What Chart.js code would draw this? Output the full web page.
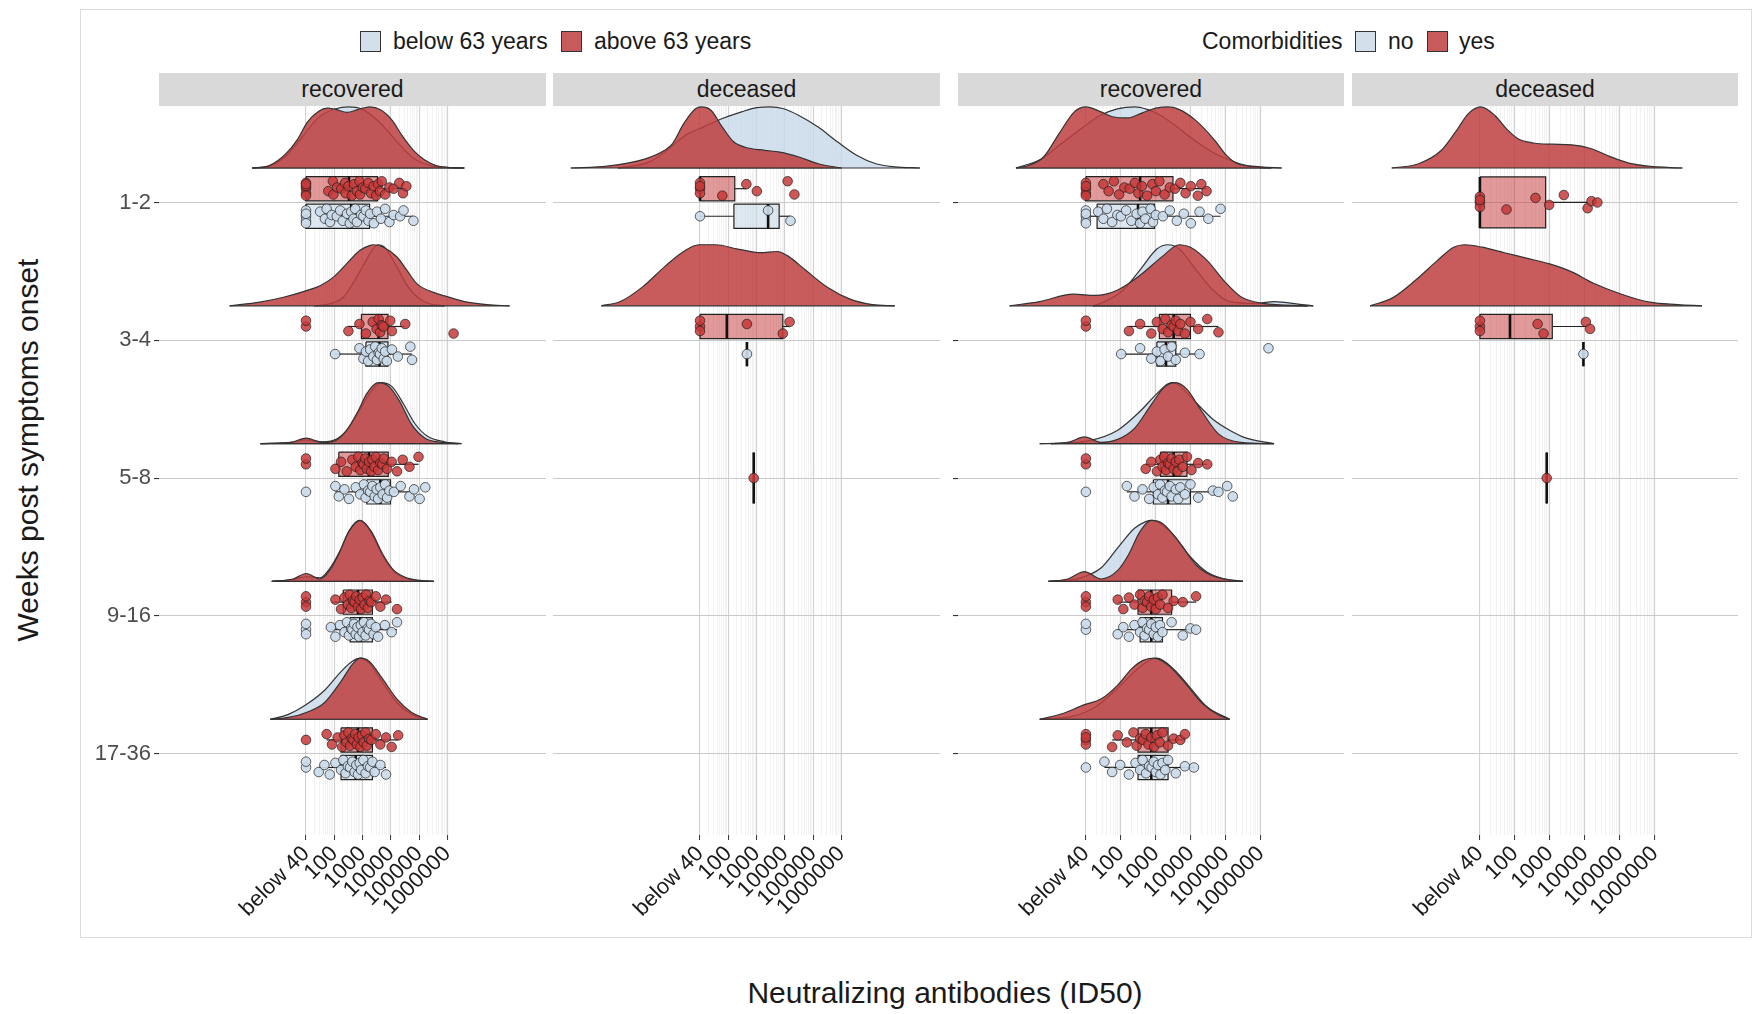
<!DOCTYPE html>
<html>
<head>
<meta charset="utf-8">
<script src="https://cdn.jsdelivr.net/npm/chart.js@4.4.1/dist/chart.umd.min.js"></script>
<style>
  body { margin: 0; background: #fff; width: 1753px; height: 1014px; position: relative; overflow: hidden;
         font-family: "Liberation Sans", Arial, sans-serif; color: #1a1a1a; }
  .abs { position: absolute; }
  .frame { left: 80px; top: 9px; width: 1670px; height: 927px; border: 1px solid #dcdcdc; }
  .strip { top: 73px; height: 33px; background: #d9d9d9; font-size: 23px; line-height: 33px; text-align: center; }
  .sq { top: 31px; width: 19px; height: 19px; border: 1px solid #333; }
  .lt { top: 26px; font-size: 23px; line-height: 30px; white-space: nowrap; }
  canvas { position: absolute; }
</style>
</head>
<body>
<div class="abs frame"></div>

<!-- legends -->
<div class="abs sq" style="left:360px;background:#d3dfeb"></div>
<div class="abs lt" id="lg1" style="left:393px"></div>
<div class="abs sq" style="left:561px;background:#c75b5b"></div>
<div class="abs lt" id="lg2" style="left:594px"></div>
<div class="abs lt" style="left:1202px">Comorbidities</div>
<div class="abs sq" style="left:1355px;background:#d3dfeb"></div>
<div class="abs lt" id="lg3" style="left:1388px"></div>
<div class="abs sq" style="left:1427px;background:#c75b5b"></div>
<div class="abs lt" id="lg4" style="left:1459px"></div>

<!-- facet strips -->
<div class="abs strip" id="st0" style="left:159px;width:387px"></div>
<div class="abs strip" id="st1" style="left:553px;width:387px"></div>
<div class="abs strip" id="st2" style="left:958px;width:386px"></div>
<div class="abs strip" id="st3" style="left:1352px;width:386px"></div>

<canvas id="p1" width="466" height="830" style="left:80px;top:106px"></canvas>
<canvas id="p2" width="387" height="830" style="left:553px;top:106px"></canvas>
<canvas id="p3" width="394" height="830" style="left:950px;top:106px"></canvas>
<canvas id="p4" width="386" height="830" style="left:1352px;top:106px"></canvas>

<div class="abs" style="left:-222px;top:432px;width:500px;height:36px;line-height:36px;font-size:30px;text-align:center;transform:rotate(-90deg)">Weeks post symptoms onset</div>
<div class="abs" style="left:0;top:975px;width:1890px;height:36px;line-height:36px;font-size:30px;text-align:center">Neutralizing antibodies (ID50)</div>

<script>
// --- categorias e eixos ---
const rows = ['1-2', '3-4', '5-8', '9-16', '17-36'];
const xTickLabels = ['below 40', '100', '1000', '10000', '100000', '1000000'];
const xTickPos = [1, 2, 3, 4, 5, 6];   // posição em décadas (below 40 = 1)
const facetLabels = ['recovered', 'deceased', 'recovered', 'deceased'];
const ageLegend = ['below 63 years', 'above 63 years'];
const comorbLegend = ['no', 'yes'];

// --- densidades: por linha, pares [x, altura relativa] ---
// p1 = idade / recovered, p2 = idade / deceased, p3 = comorb. / recovered, p4 = comorb. / deceased
// a = azul (below 63 / no), b = vermelho (above 63 / yes)
const p1aDens = [
  [[-0.9,0],[-0.3,0.03],[0.3,0.2],[0.85,0.5],[1.45,0.83],[2.05,0.97],[2.5,1],[3.0,0.96],[3.6,0.75],[4.2,0.44],[4.8,0.16],[5.4,0.04],[6.0,0.01],[6.6,0]],
  [[1.3,0],[1.9,0.04],[2.32,0.14],[2.7,0.4],[3.05,0.68],[3.35,0.92],[3.55,1],[3.8,0.95],[4.2,0.65],[4.6,0.32],[5.0,0.12],[5.4,0.03],[5.9,0]],
  [[-0.61,0],[0.5,0.02],[1.01,0.06],[1.6,0.03],[2.1,0.08],[2.5,0.25],[2.9,0.55],[3.3,0.85],[3.65,1],[4.05,0.93],[4.45,0.65],[4.85,0.33],[5.3,0.12],[5.9,0.03],[6.5,0]],
  [[-0.21,0],[0.54,0.03],[1.01,0.08],[1.5,0.06],[1.85,0.22],[2.2,0.5],[2.55,0.85],[2.9,1],[3.3,0.8],[3.7,0.43],[4.1,0.17],[4.6,0.04],[5.5,0]],
  [[-0.26,0],[0.38,0.08],[1.01,0.24],[1.65,0.47],[2.24,0.78],[2.64,0.95],[2.92,1],[3.23,0.92],[3.71,0.6],[4.22,0.27],[4.74,0.08],[5.3,0]]
];
const p1bDens = [
  [[-0.9,0],[-0.3,0.04],[0.3,0.24],[0.7,0.47],[1.05,0.75],[1.45,0.93],[1.75,0.98],[2.05,0.96],[2.45,0.91],[2.85,0.96],[3.25,1],[3.65,0.95],[4.05,0.78],[4.4,0.53],[4.8,0.29],[5.2,0.13],[5.6,0.04],[6.0,0.01],[6.6,0]],
  [[-1.7,0],[-0.63,0.06],[0.2,0.14],[1.02,0.25],[1.5,0.33],[1.97,0.47],[2.44,0.69],[2.91,0.91],[3.27,0.99],[3.39,1],[3.74,0.96],[4.22,0.8],[4.57,0.58],[4.93,0.36],[5.51,0.22],[5.99,0.15],[6.6,0.07],[7.4,0.02],[8.2,0]],
  [[-0.61,0],[0.46,0.02],[1.01,0.09],[1.57,0.02],[2.04,0.05],[2.44,0.22],[2.84,0.53],[3.15,0.82],[3.55,1],[3.95,0.93],[4.34,0.67],[4.74,0.31],[5.21,0.09],[5.81,0.02],[6.4,0]],
  [[-0.21,0],[0.54,0.04],[1.01,0.13],[1.49,0.04],[1.84,0.18],[2.16,0.45],[2.52,0.82],[2.92,1],[3.31,0.82],[3.71,0.45],[4.11,0.18],[4.62,0.05],[5.53,0]],
  [[-0.26,0],[0.38,0.03],[1.01,0.11],[1.65,0.27],[2.24,0.62],[2.64,0.9],[2.92,1],[3.23,0.95],[3.71,0.66],[4.22,0.33],[4.74,0.11],[5.3,0]]
];
const p2aDens = [
  [[-1.9,0],[-1.4,0.03],[-0.79,0.1],[-0.25,0.26],[0.03,0.37],[0.57,0.56],[1.11,0.67],[1.79,0.81],[2.47,0.92],[3.01,0.99],[3.48,1],[3.96,0.97],[4.5,0.86],[5.18,0.67],[5.86,0.43],[6.54,0.21],[7.22,0.07],[7.89,0.02],[8.78,0]],
  null, null, null, null
];
const p2bDens = [
  [[-3.57,0],[-2.28,0.03],[-0.93,0.15],[-0.25,0.29],[0.03,0.4],[0.43,0.73],[0.84,0.97],[1.04,1],[1.38,0.95],[1.79,0.67],[2.19,0.43],[2.6,0.34],[3.28,0.29],[3.82,0.26],[4.5,0.18],[5.18,0.07],[6.0,0]],
  [[-2.49,0],[-1.82,0.07],[-1.03,0.31],[-0.23,0.65],[0.36,0.87],[0.96,1],[1.55,1],[2.34,0.93],[3.14,0.87],[3.73,0.89],[4.13,0.81],[4.72,0.59],[5.52,0.3],[6.31,0.11],[7.1,0.02],[7.89,0]],
  null, null, null
];
const p3aDens = [
  [[-1.0,0],[-0.3,0.14],[0.3,0.4],[0.9,0.66],[1.4,0.86],[1.9,0.97],[2.4,1],[2.75,0.96],[3.05,0.89],[3.5,0.72],[4.0,0.5],[4.5,0.3],[4.9,0.18],[5.4,0.07],[5.9,0.01],[6.3,0]],
  [[1.2,0],[1.43,0.04],[2.07,0.26],[2.55,0.59],[3.03,0.93],[3.35,1],[3.67,0.93],[4.15,0.59],[4.63,0.26],[5.11,0.07],[5.9,0.04],[6.38,0.07],[7.18,0.02],[7.5,0]],
  [[0.0,0],[1.11,0.05],[1.91,0.22],[2.55,0.53],[3.03,0.82],[3.35,0.98],[3.5,1],[3.67,0.95],[4.15,0.67],[4.63,0.4],[5.11,0.22],[5.59,0.09],[6.38,0]],
  [[-0.07,0],[0.8,0.05],[1.43,0.22],[1.91,0.55],[2.39,0.87],[2.71,0.98],[2.87,1],[3.03,0.98],[3.51,0.76],[3.99,0.4],[4.47,0.15],[5.11,0.02],[5.49,0]],
  [[-0.32,0],[0.64,0.05],[1.27,0.2],[1.91,0.51],[2.39,0.78],[2.71,0.93],[3.03,1],[3.51,0.82],[3.99,0.51],[4.47,0.2],[5.11,0]]
];
const p3bDens = [
  [[-1.0,0],[-0.6,0.05],[-0.21,0.18],[0.23,0.56],[0.67,0.92],[1.0,1],[1.43,0.92],[1.76,0.84],[2.2,0.82],[2.6,0.9],[3.0,0.98],[3.35,1],[3.66,0.96],[4.14,0.78],[4.69,0.45],[5.0,0.22],[5.34,0.07],[6.0,0.02],[6.6,0]],
  [[-1.18,0],[-0.32,0.07],[0.64,0.19],[1.27,0.17],[1.91,0.26],[2.55,0.5],[3.19,0.81],[3.67,1],[3.99,0.96],[4.47,0.74],[4.95,0.41],[5.43,0.15],[6.07,0.04],[7.34,0]],
  [[-0.32,0],[0.48,0.02],[0.96,0.11],[1.43,0.02],[1.91,0.07],[2.39,0.25],[2.87,0.64],[3.25,0.93],[3.57,1],[3.89,0.89],[4.31,0.53],[4.79,0.16],[5.43,0.02],[6.38,0]],
  [[-0.07,0],[0.48,0.04],[0.96,0.16],[1.43,0.04],[1.91,0.18],[2.23,0.45],[2.55,0.82],[2.87,1],[3.19,0.95],[3.67,0.64],[4.15,0.27],[4.63,0.09],[5.49,0]],
  [[-0.32,0],[0.32,0.09],[0.96,0.24],[1.43,0.33],[1.91,0.56],[2.3,0.82],[2.62,0.96],[2.94,1],[3.35,0.89],[3.83,0.6],[4.31,0.27],[4.79,0.07],[5.11,0]]
];
const p4aDens = [null, null, null, null, null];
const p4bDens = [
  [[-1.52,0],[-0.75,0.07],[-0.1,0.29],[0.34,0.62],[0.67,0.89],[1.02,1],[1.43,0.86],[1.76,0.64],[2.09,0.48],[2.53,0.41],[3.07,0.39],[3.62,0.38],[4.17,0.32],[4.71,0.19],[5.26,0.08],[5.81,0.03],[6.79,0]],
  [[-2.14,0],[-1.5,0.13],[-0.86,0.41],[-0.22,0.74],[0.25,0.96],[0.57,1],[1.06,0.96],[1.7,0.87],[2.33,0.78],[2.97,0.69],[3.61,0.56],[4.25,0.37],[5.05,0.19],[5.85,0.06],[6.65,0.02],[7.35,0]],
  null, null, null
];

// --- boxplots: [min, q1, mediana, q3, max] por linha ---
const p1aBox = [[1.0,1.0,2.6,3.25,4.8],[2.03,3.12,3.6,3.9,4.75],[2.04,3.15,3.63,3.99,4.82],[1.88,2.56,2.92,3.35,4.22],[1.45,2.24,2.76,3.35,3.83]];
const p1bBox = [[1.0,1.0,2.52,3.53,4.55],[2.5,2.96,3.57,3.9,4.51],[2.04,2.16,3.23,3.91,4.98],[1.92,2.32,2.84,3.35,4.03],[1.73,2.24,2.84,3.35,4.26]];
const p2aBox = [[1.0,2.2,3.41,3.8,4.2],[2.66,2.66,2.66,2.66,2.66],null,null,null];
const p2bBox = [[1.0,1.0,1.0,2.23,2.64],[1.0,1.0,1.95,3.93,4.17],[2.9,2.9,2.9,2.9,2.9],null,null];
const p3aBox = [[1.0,1.32,2.49,2.96,4.85],[2.01,3.03,3.29,3.57,4.25],[2.17,2.93,3.35,3.99,4.63],[1.91,2.55,2.87,3.19,3.99],[1.53,2.49,2.87,3.35,4.09]];
const p3bBox = [[1.0,1.0,2.55,3.49,4.45],[2.23,3.1,3.51,3.99,4.79],[2.71,3.13,3.51,3.89,4.47],[1.91,2.49,2.87,3.45,4.15],[1.75,2.49,2.87,3.35,3.83]];
const p4aBox = [null,[3.96,3.96,3.96,3.96,3.96],null,null,null];
const p4bBox = [[1.0,1.0,1.0,2.88,4.08],[1.0,1.0,1.86,3.07,4.03],[2.91,2.91,2.91,2.91,2.91],null,null];

// --- pontos individuais (décadas) por linha ---
const p1aPts = [
  [1,1,1,1,1,1.5,1.67,1.73,1.85,1.91,2.09,2.21,2.3,2.45,2.55,2.6,2.68,2.74,2.8,2.95,3.03,3.12,3.21,3.27,3.4,3.51,3.65,3.8,3.95,4.1,4.33,4.45,4.8],
  [2.03,2.89,3.03,3.12,3.2,3.27,3.38,3.45,3.51,3.57,3.62,3.68,3.75,3.8,3.86,4.04,4.25,4.69,4.75],
  [1.0,2.04,2.16,2.36,2.52,2.76,2.92,3.05,3.11,3.2,3.27,3.35,3.43,3.5,3.55,3.63,3.71,3.8,3.87,3.95,4.11,4.35,4.66,4.82,5.02,5.22],
  [1,1,1,1.88,2.04,2.2,2.36,2.45,2.52,2.6,2.64,2.7,2.76,2.82,2.88,2.94,3.0,3.05,3.11,3.18,3.23,3.3,3.39,3.47,3.55,3.79,4.03,4.22],
  [1,1,1.45,1.65,1.84,2.04,2.24,2.32,2.4,2.48,2.56,2.64,2.72,2.78,2.84,2.9,2.95,3.03,3.11,3.19,3.27,3.35,3.43,3.63,3.83]
];
const p1bPts = [
  [1,1,1,1,1,1,1.79,1.95,1.97,2.1,2.25,2.38,2.4,2.5,2.62,2.7,2.8,2.89,2.91,3.01,3.1,3.2,3.3,3.39,3.48,3.55,3.62,3.68,3.8,3.95,4.1,4.3,4.43,4.55],
  [1,1,2.5,2.89,3.12,3.36,3.5,3.57,3.62,3.68,3.74,3.98,4.04,4.51,6.22],
  [1,1,2.04,2.24,2.44,2.64,2.76,2.85,2.92,3.0,3.04,3.1,3.15,3.23,3.3,3.35,3.42,3.47,3.55,3.63,3.7,3.75,3.87,4.03,4.22,4.42,4.66,4.98],
  [1,1,1,2.04,2.24,2.36,2.48,2.55,2.6,2.66,2.72,2.78,2.84,2.9,2.95,3.01,3.07,3.13,3.19,3.25,3.31,3.47,3.63,3.83,4.22],
  [1,1.73,1.92,2.12,2.28,2.36,2.44,2.5,2.56,2.62,2.68,2.74,2.8,2.86,2.92,2.98,3.04,3.1,3.15,3.23,3.31,3.47,3.63,3.83,4.03,4.26]
];
const p2aPts = [[1.0,3.41,4.2],[2.66],[],[],[]];
const p2bPts = [[1,1,1,1,1.79,2.64,3.01,4.1,4.34],[1,1,1,2.66,3.93,4.17],[2.9],[],[]];
const p3aPts = [
  [1,1,1,1,1,1.35,1.5,1.6,1.75,1.9,2.0,2.15,2.3,2.45,2.55,2.62,2.7,2.85,2.92,3.0,3.2,3.4,3.6,3.8,4.0,4.25,4.5,4.85],
  [2.01,2.55,2.87,3.03,3.13,3.25,3.35,3.45,3.57,3.83,4.25,6.22],
  [1.0,2.17,2.39,2.62,2.81,2.94,3.06,3.12,3.19,3.26,3.32,3.4,3.45,3.57,3.64,3.7,3.83,3.99,4.21,4.63,4.79,5.04,5.2],
  [1,1,1.91,2.07,2.23,2.39,2.55,2.62,2.68,2.75,2.81,2.87,2.94,3.0,3.06,3.12,3.19,3.45,3.77,3.99,4.15],
  [1,1.53,1.75,1.98,2.23,2.42,2.55,2.62,2.72,2.81,2.88,2.94,3.0,3.06,3.13,3.19,3.27,3.35,3.57,3.83,4.09]
];
const p3bPts = [
  [1,1,1,1,1,1.5,1.65,1.8,1.95,2.1,2.25,2.4,2.5,2.6,2.75,2.9,3.0,3.1,3.25,3.4,3.55,3.7,3.85,4.0,4.2,4.3,4.45],
  [1,1,2.23,2.55,2.87,3.03,3.19,3.27,3.35,3.45,3.51,3.57,3.64,3.7,3.83,3.99,4.21,4.47,4.79],
  [1,1,2.71,2.87,3.03,3.13,3.19,3.24,3.29,3.35,3.4,3.45,3.51,3.57,3.62,3.67,3.77,3.89,4.02,4.21,4.47],
  [1,1,1,1.91,2.07,2.23,2.39,2.55,2.62,2.68,2.75,2.81,2.87,2.94,3.0,3.06,3.12,3.19,3.35,3.51,3.77,4.15],
  [1,1,1,1,1.75,1.91,2.17,2.36,2.45,2.55,2.63,2.71,2.79,2.87,2.95,3.03,3.11,3.19,3.35,3.51,3.7,3.83]
];
const p4aPts = [[],[3.96],[],[],[]];
const p4bPts = [[1,1,1,1,1.76,2.59,2.98,3.4,4.08,4.19,4.36],[1,1,1,2.65,2.82,4.03,4.15],[2.91],[],[]];

// --- estilo ---
const BLUE = { dens: 'rgba(200,216,232,0.8)', box: 'rgba(200,216,232,0.6)', pt: 'rgba(203,219,234,0.92)' };
const RED  = { dens: 'rgba(190,62,62,0.85)', box: 'rgba(200,60,60,0.52)', pt: 'rgba(200,58,58,0.85)' };
const OUTLINE = '#333333';
const DENS_BASE = 0.25, DENS_H = 0.443;
const DODGE = 0.1, HALF_DODGE = 0.088, HALF_FULL = 0.185;
const JIT = [0, -0.7, 0.55, -0.3, 0.85, -0.55, 0.3, -0.9, 0.7, -0.15];
const JIT_AMP = 0.06;
const Y_MIN = 0.3, Y_MAX = 5.59, X_AXIS_H = 101;

Chart.defaults.font.family = "'Liberation Sans', Arial, sans-serif";
Chart.defaults.animation = false;
Chart.defaults.events = [];

// linhas verticais: décadas maiores + subdivisões log (2..9)
const xGridTicks = [];
for (let d = 1; d <= 6; d++) {
    xGridTicks.push({ value: d, minor: false });
    if (d < 6) for (let m = 2; m <= 9; m++) xGridTicks.push({ value: d + Math.log10(m), minor: true });
}

function groupSets(dens, pts, box, r, center, half, col, ord) {
    const sets = [];
    const base = r + 1 - DENS_BASE;
    const curve = dens[r];
    if (curve) {
        sets.push({
            data: curve.map(([u, h]) => ({ x: u, y: base - DENS_H * h })),
            fill: { value: base }, backgroundColor: col.dens, borderColor: OUTLINE, borderWidth: 1.2,
            pointRadius: 0, cubicInterpolationMode: 'monotone', order: ord
        });
        sets.push({
            data: [{ x: curve[0][0], y: base }, { x: curve[curve.length - 1][0], y: base }],
            borderColor: OUTLINE, borderWidth: 1.2, pointRadius: 0, fill: false, order: ord - 1
        });
    }
    const b = box[r];
    if (b) {
        const [lo, q1, med, q3, hi] = b;
        const top = center - half, bot = center + half;
        sets.push({
            data: [{ x: q1, y: top }, { x: q3, y: top }, { x: q3, y: bot }, { x: q1, y: bot }, { x: q1, y: top }],
            fill: 'shape', backgroundColor: col.box, borderColor: '#222', borderWidth: 1.2, pointRadius: 0, order: 20
        });
        sets.push({ data: [{ x: lo, y: center }, { x: q1, y: center }], borderColor: '#222', borderWidth: 1.2, pointRadius: 0, order: 19 });
        sets.push({ data: [{ x: q3, y: center }, { x: hi, y: center }], borderColor: '#222', borderWidth: 1.2, pointRadius: 0, order: 19 });
        sets.push({ data: [{ x: med, y: top }, { x: med, y: bot }], borderColor: '#111', borderWidth: 2.6, pointRadius: 0, order: 18 });
    }
    if (pts[r] && pts[r].length) {
        sets.push({
            data: pts[r].map((u, i) => ({ x: u, y: center + JIT[i % JIT.length] * JIT_AMP })),
            showLine: false, pointRadius: 4.8, pointBackgroundColor: col.pt,
            pointBorderColor: 'rgba(25,25,25,0.85)', pointBorderWidth: 0.8, order: ord === 40 ? 6 : 5
        });
    }
    return sets;
}

function xScale(min, max) {
    return {
        type: 'linear', min, max,
        afterBuildTicks: s => { s.ticks = xGridTicks.map(t => ({ value: t.value, minor: t.minor })); },
        // área do gráfico fixa: sem folga extra dos rótulos
        afterFit: s => { s.height = X_AXIS_H; s.paddingLeft = 0; s.paddingRight = 0; },
        border: { display: false },
        grid: {
            color: c => (c.tick && c.tick.minor) ? '#efefef' : '#d2d2d2',
            lineWidth: c => (c.tick && c.tick.minor) ? 0.8 : 1.1,
            tickLength: 5,
            tickColor: c => (c.tick && c.tick.minor) ? 'rgba(0,0,0,0)' : '#333',
            tickWidth: 1
        },
        ticks: {
            autoSkip: false, minRotation: 45, maxRotation: 45, padding: 1,
            color: '#1a1a1a', font: { size: 22 },
            callback: (v, i, t) => t[i].minor ? '' : xTickLabels[xTickPos.indexOf(v)]
        }
    };
}

function yScale(mode, width) {
    return {
        type: 'linear', reverse: true, min: Y_MIN, max: Y_MAX,
        afterBuildTicks: s => { s.ticks = rows.map((r, i) => ({ value: i + 1 })); },
        afterFit: s => { s.width = width; s.paddingTop = 0; s.paddingBottom = 0; },
        border: { display: false },
        grid: { color: '#c9c9c9', lineWidth: 1.1, drawTicks: mode !== 'none', tickLength: 5, tickColor: '#333' },
        ticks: {
            display: mode === 'labels', padding: 3, color: '#4d4d4d', font: { size: 22 },
            callback: v => rows[Math.round(v) - 1]
        }
    };
}

function makePanel(id, a, b, xMin, xMax, yMode, yWidth) {
    const datasets = [];
    for (let r = 0; r < rows.length; r++) {
        const both = a.box[r] && b.box[r];
        const half = both ? HALF_DODGE : HALF_FULL;
        datasets.push(...groupSets(a.dens, a.pts, a.box, r, r + 1 + (both ? DODGE : 0), half, BLUE, 40));
        datasets.push(...groupSets(b.dens, b.pts, b.box, r, r + 1 - (both ? DODGE : 0), half, RED, 30));
    }
    new Chart(document.getElementById(id), {
        type: 'line',
        data: { datasets },
        options: {
            responsive: false,
            layout: { padding: 0, autoPadding: false },
            plugins: { legend: { display: false }, tooltip: { enabled: false } },
            scales: { x: xScale(xMin, xMax), y: yScale(yMode, yWidth) }
        }
    });
}

// --- textos ---
document.getElementById('lg1').textContent = ageLegend[0];
document.getElementById('lg2').textContent = ageLegend[1];
document.getElementById('lg3').textContent = comorbLegend[0];
document.getElementById('lg4').textContent = comorbLegend[1];
facetLabels.forEach((t, i) => { document.getElementById('st' + i).textContent = t; });

// --- painéis ---
makePanel('p1', { dens: p1aDens, pts: p1aPts, box: p1aBox }, { dens: p1bDens, pts: p1bPts, box: p1bBox }, -4.2, 9.49, 'labels', 79);
makePanel('p2', { dens: p2aDens, pts: p2aPts, box: p2aBox }, { dens: p2bDens, pts: p2bPts, box: p2bBox }, -4.2, 9.49, 'none', 0);
makePanel('p3', { dens: p3aDens, pts: p3aPts, box: p3aBox }, { dens: p3bDens, pts: p3bPts, box: p3bBox }, -2.657, 8.38, 'ticks', 8);
makePanel('p4', { dens: p4aDens, pts: p4aPts, box: p4aBox }, { dens: p4bDens, pts: p4bPts, box: p4bBox }, -2.657, 8.38, 'none', 0);
</script>
</body>
</html>
